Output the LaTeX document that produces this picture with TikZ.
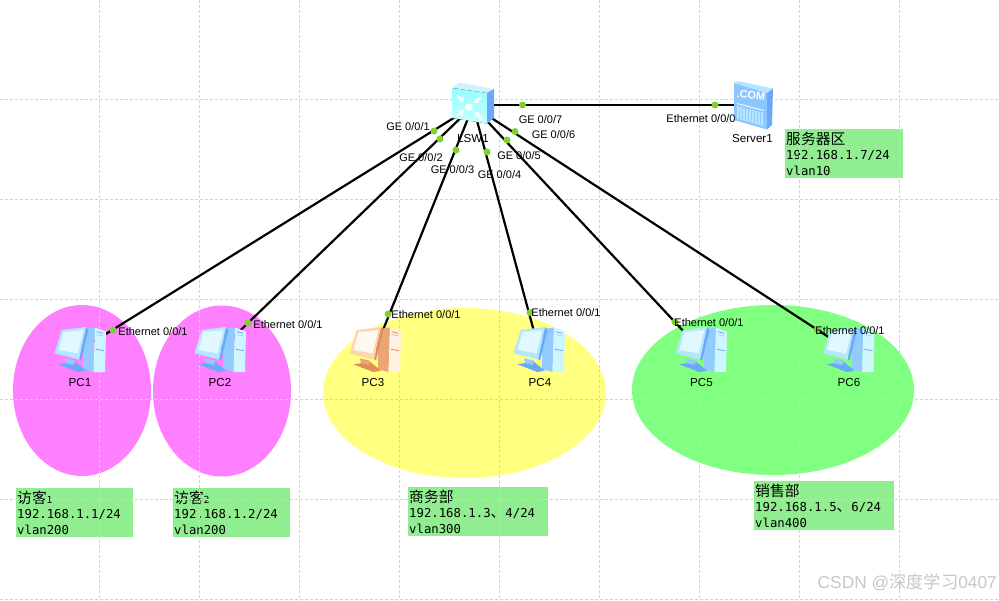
\documentclass[tikz,border=0pt]{standalone}
\usepackage{fontspec}
\setmainfont{Liberation Sans}
\setmonofont{DejaVu Sans Mono}
\newfontfamily\cjk{Noto Sans CJK SC}
\usetikzlibrary{arrows.meta}
\definecolor{pinkz}{HTML}{FF80FF}
\definecolor{yellowz}{HTML}{FFFF80}
\definecolor{greenz}{HTML}{80FF80}
\definecolor{boxg}{HTML}{90EE90}
\definecolor{gridc}{HTML}{D2D2D2}
\definecolor{portc}{HTML}{80D030}
\definecolor{bbezel}{HTML}{B4E6FF}
\definecolor{bscreen}{HTML}{E2F8FF}
\definecolor{bside}{HTML}{93CBFF}
\definecolor{bfront}{HTML}{CFF6FF}
\definecolor{bdark}{HTML}{6AA8F8}
\definecolor{obezel}{HTML}{FFD4AE}
\definecolor{oscreen}{HTML}{FFF8F0}
\definecolor{oside}{HTML}{EBA673}
\definecolor{ofront}{HTML}{FFF1E3}
\definecolor{odark}{HTML}{E08F58}
\newcommand{\boxtext}[3]{{\fontsize{14.8}{15.2}\selectfont\cjk #1}\\{\ttfamily #2}\\{\ttfamily #3}}
\newcommand{\dun}{{\cjk\fontsize{14.8}{15.2}\selectfont 、}}
\newcommand{\smalld}[1]{{\fontsize{10}{15.2}\selectfont #1}}
\tikzset{
  gridl/.style={gridc,densely dashed,line width=0.8pt},
  link/.style={black,line width=2.2pt},
  hub/.style={inner sep=0pt,minimum size=0pt,outer sep=0pt},
  port/.style={circle,fill=portc,inner sep=0pt,minimum size=7pt},
  plabel/.style={font=\fontsize{11}{13}\selectfont,inner sep=0pt,text=black},
  dlabel/.style={font=\fontsize{11.6}{13}\selectfont,inner sep=0pt,text=black},
  notebox/.style={fill=boxg,anchor=north west,inner xsep=1pt,inner ysep=0pt,align=left,font=\fontsize{12.3}{15.2}\selectfont},
  swarrow/.style={white,line width=2.4pt,-{Latex[length=5pt,width=7pt]}},
  pics/pcicon/.style n args={5}{code={
    \fill[#3] (3,-21) -- (15,-22.5) -- (13.5,22) -- (3,19) -- cycle;
    \fill[#4] (15,-22.5) -- (26,-18.5) -- (25,22) -- (13.5,22) -- cycle;
    \fill[#5] (-21.7,14.3) -- (-5,11.7) -- (6,20.7) -- (-1.7,22) -- cycle;
    \fill[#3] (-15,8.3) -- (-5,10.7) -- (-6,15) -- (-14,13.3) -- cycle;
    \fill[#5] (6,-23) -- (8.5,-20) -- (1,10.5) -- (-1,9) -- cycle;
    \fill[#1] (-18.3,-20) -- (6,-23) -- (-1,9.5) -- (-25.5,3.3) -- cycle;
    \fill[#2] (-16.7,-17.7) -- (3.3,-20) -- (-2.3,3.3) -- (-21.5,0) -- cycle;
    \draw[#5,line width=0.8pt] (16.7,-18.3) -- (23.3,-16.7) (16,-0.7) -- (24,0.7);
    \draw[#3,line width=0.6pt] (16.7,-15.5) -- (23.3,-14);
  }},
}
\begin{document}
\begin{tikzpicture}[x=1pt,y=-1pt]
\useasboundingbox (0,0) rectangle (999,600);
\fill[white] (0,0) rectangle (999,600);
% zones
\fill[pinkz] (82,390.5) ellipse [x radius=69,y radius=85.5];
\fill[pinkz] (222,391) ellipse [x radius=69,y radius=85.5];
\fill[yellowz] (464.5,393) ellipse [x radius=141.5,y radius=85];
\fill[greenz] (773,390) ellipse [x radius=141,y radius=85];
% notes
\node[notebox,minimum width=117pt,minimum height=49pt,text width=115pt] (note1) at (16,488) {\boxtext{访客\smalld{1}}{192.168.1.1/24}{vlan200}};
\node[notebox,minimum width=117pt,minimum height=49pt,text width=115pt] (note2) at (173,488) {\boxtext{访客\smalld{2}}{192.168.1.2/24}{vlan200}};
\node[notebox,minimum width=140pt,minimum height=49pt,text width=138pt] (note3) at (408,487) {\boxtext{商务部}{192.168.1.3\dun 4/24}{vlan300}};
\node[notebox,minimum width=140pt,minimum height=49pt,text width=138pt] (note4) at (754,481) {\boxtext{销售部}{192.168.1.5\dun 6/24}{vlan400}};
\node[notebox,minimum width=118pt,minimum height=49pt,text width=116pt] (note5) at (785,129) {\boxtext{服务器区}{192.168.1.7/24}{vlan10}};
% grid
\foreach \gx in {99,199,...,899} \draw[gridl] (\gx,0) -- (\gx,600);
\foreach \gy in {99,199,...,599} \draw[gridl] (0,\gy) -- (999,\gy);
% anchors
\node[hub] (lsw) at (473,106) {};
\node[hub] (srv) at (752,105) {};
\node[hub] (pc1) at (80,350) {};
\node[hub] (pc2) at (220,350) {};
\node[hub] (pc3) at (375,350) {};
\node[hub] (pc4) at (539,350) {};
\node[hub] (pc5) at (701,350) {};
\node[hub] (pc6) at (848.5,350) {};
% links
\draw[link] (lsw) -- (pc1);
\draw[link] (lsw) -- (pc2);
\draw[link] (lsw) -- (pc3);
\draw[link] (lsw) -- (pc4);
\draw[link] (lsw) -- (pc5);
\draw[link] (lsw) -- (pc6);
\draw[link] (lsw.center) ++(0,-1) -- (srv);
% switch icon
\fill[bscreen!60!bbezel] (452,88) -- (459,82.5) -- (494,89) -- (487,93) -- cycle;
\fill[top color=cyan!42!white,bottom color=cyan!22!white] (452,88) -- (487,93) -- (487,123.5) -- (452,118) -- cycle;
\fill[bdark] (487,93) -- (494,89) -- (494,118) -- (487,123.5) -- cycle;
\fill[white] (469,107) circle (3.8);
\draw[swarrow] (456.7,94.7) -- (464.5,102.5);
\draw[swarrow] (481,97.5) -- (473.5,103.5);
\draw[swarrow] (456.7,116.3) -- (464.3,110);
\draw[swarrow] (482,119.5) -- (474.3,111.5);
% server icon
\fill[bbezel] (734,83) -- (738,81) -- (773,88.5) -- (767,93) -- cycle;
\fill[bside!85!bdark] (734,83) -- (767,93) -- (767,129.5) -- (734,120) -- cycle;
\fill[bdark] (767,93) -- (773,88.5) -- (772,125) -- (767,129.5) -- cycle;
\fill[bbezel] (737,106) -- (764,113) -- (764,126) -- (737,118.5) -- cycle;
\foreach \sx in {739,742,...,763} \draw[bside,line width=0.8pt] (\sx,106.5+\sx*0.26-739*0.26) -- (\sx,118.5+\sx*0.27-739*0.27);
\draw[white,line width=0.8pt] (737,103.5) -- (764,110.5);
\node[font=\bfseries\fontsize{11}{13}\selectfont,text=white,rotate=-7,inner sep=0pt] (com) at (751,95.5) {.COM};
% PCs
\pic at (pc1) {pcicon={bbezel}{bscreen}{bside}{bfront}{bdark}};
\pic at (pc2) {pcicon={bbezel}{bscreen}{bside}{bfront}{bdark}};
\pic at (pc3) {pcicon={obezel}{oscreen}{oside}{ofront}{odark}};
\pic at (pc4) {pcicon={bbezel}{bscreen}{bside}{bfront}{bdark}};
\pic at (pc5) {pcicon={bbezel}{bscreen}{bside}{bfront}{bdark}};
\pic at (pc6) {pcicon={bbezel}{bscreen}{bside}{bfront}{bdark}};
% ports
\node[port] (d1) at (434,131) {};
\node[port] (d2) at (440,139) {};
\node[port] (d3) at (456,150) {};
\node[port] (d4) at (487,152) {};
\node[port] (d5) at (507,140) {};
\node[port] (d6) at (515,131.5) {};
\node[port] (d7) at (522.5,105) {};
\node[port] (d8) at (715,105) {};
\node[port] (e1) at (113,330) {};
\node[port] (e2) at (248,323) {};
\node[port] (e3) at (388,314) {};
\node[port] (e4) at (530,312.5) {};
\node[port] (e5) at (675,322) {};
\node[port] (e6) at (817,329.5) {};
% labels
\node[plabel] (t1) at (408,127) {GE 0/0/1};
\node[plabel] (t2) at (421,158) {GE 0/0/2};
\node[plabel] (t3) at (452.5,170) {GE 0/0/3};
\node[plabel] (t4) at (499.5,175) {GE 0/0/4};
\node[plabel] (t5) at (519,156) {GE 0/0/5};
\node[plabel] (t6) at (553.5,135) {GE 0/0/6};
\node[plabel] (t7) at (540.5,120) {GE 0/0/7};
\node[plabel] (t8) at (701,119) {Ethernet 0/0/0};
\node[plabel] (t9) at (153,332) {Ethernet 0/0/1};
\node[plabel] (t10) at (288,325) {Ethernet 0/0/1};
\node[plabel] (t11) at (426,315) {Ethernet 0/0/1};
\node[plabel] (t12) at (566,313) {Ethernet 0/0/1};
\node[plabel] (t13) at (709,323) {Ethernet 0/0/1};
\node[plabel] (t14) at (850,331) {Ethernet 0/0/1};
\node[dlabel] (n0) at (473,139) {LSW1};
\node[dlabel] (n1) at (752.5,138.5) {Server1};
\node[dlabel] (n2) at (80,382.5) {PC1};
\node[dlabel] (n3) at (220,382.5) {PC2};
\node[dlabel] (n4) at (373,382.5) {PC3};
\node[dlabel] (n5) at (540,382.5) {PC4};
\node[dlabel] (n6) at (701.5,382.5) {PC5};
\node[dlabel] (n7) at (849,382.5) {PC6};
% watermark
\node[anchor=east,inner sep=0pt,text=black!22,font=\fontsize{17.3}{19}\selectfont] (wm) at (997,582.5) {CSDN @{\cjk 深度学习}0407};
\end{tikzpicture}
\end{document}
